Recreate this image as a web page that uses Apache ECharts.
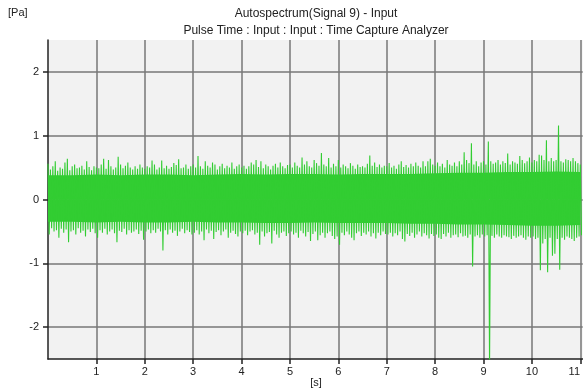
<!DOCTYPE html>
<html>
<head>
<meta charset="utf-8">
<script src="https://cdn.jsdelivr.net/npm/echarts@6/dist/echarts.min.js"></script>
<style>
  html, body { margin: 0; padding: 0; background: #ffffff; }
  #chart { width: 583px; height: 390px; }
</style>
</head>
<body>
<div id="chart"></div>
<script>
// Time capture of input pressure signal: envelope of the trace per 0.05 s block.
const BLOCK = 0.05;            // seconds per block
const CORE_STEP = 0.5;         // seconds per solid-core sample

// Peak (max) value inside each 0.05 s block, Pa
const peakHigh = [
  0.56,0.47,0.52,0.60,0.45,0.50,0.48,0.58,0.64,0.46,0.52,0.55,0.49,0.50,0.53,0.47,0.60,0.51,0.46,0.52,
  0.50,0.49,0.55,0.64,0.48,0.62,0.52,0.47,0.50,0.67,0.55,0.49,0.53,0.58,0.50,0.47,0.52,0.48,0.55,0.50,
  0.48,0.52,0.50,0.61,0.55,0.47,0.50,0.61,0.49,0.53,0.48,0.51,0.57,0.54,0.63,0.49,0.50,0.55,0.48,0.52,
  0.55,0.50,0.68,0.52,0.48,0.60,0.53,0.50,0.58,0.55,0.47,0.52,0.56,0.49,0.53,0.50,0.58,0.48,0.52,0.55,
  0.50,0.53,0.48,0.52,0.58,0.55,0.62,0.51,0.60,0.49,0.55,0.52,0.47,0.53,0.56,0.50,0.58,0.52,0.49,0.54,
  0.55,0.50,0.58,0.53,0.50,0.66,0.55,0.60,0.52,0.50,0.62,0.57,0.53,0.73,0.55,0.52,0.65,0.50,0.56,0.52,
  0.62,0.50,0.55,0.52,0.49,0.57,0.53,0.48,0.55,0.51,0.52,0.50,0.56,0.69,0.53,0.58,0.51,0.55,0.50,0.53,
  0.52,0.57,0.50,0.53,0.48,0.55,0.60,0.51,0.54,0.50,0.56,0.52,0.58,0.53,0.50,0.60,0.52,0.60,0.64,0.55,
  0.53,0.58,0.52,0.56,0.50,0.62,0.55,0.53,0.58,0.52,0.60,0.55,0.74,0.62,0.57,0.88,0.55,0.60,0.52,0.58,
  0.60,0.55,0.91,0.60,0.56,0.58,0.62,0.55,0.60,0.57,0.72,0.55,0.60,0.58,0.56,0.68,0.62,0.57,0.60,0.66,
  0.58,0.62,0.60,0.70,0.69,0.62,0.93,0.60,0.65,0.60,0.62,1.16,0.60,0.58,0.63,0.62,0.60,0.65,0.60,0.57,
  0.55
];

// Trough (min) value inside each 0.05 s block, Pa
const peakLow = [
  -0.55,-0.45,-0.50,-0.48,-0.60,-0.46,-0.52,-0.47,-0.67,-0.50,-0.48,-0.55,-0.45,-0.52,-0.49,-0.58,-0.47,-0.51,-0.46,-0.53,
  -0.60,-0.48,-0.52,-0.46,-0.55,-0.50,-0.47,-0.53,-0.67,-0.49,-0.51,-0.46,-0.55,-0.48,-0.52,-0.50,-0.47,-0.54,-0.49,-0.63,
  -0.50,-0.47,-0.53,-0.48,-0.52,-0.46,-0.50,-0.80,-0.48,-0.55,-0.47,-0.52,-0.49,-0.57,-0.50,-0.46,-0.53,-0.48,-0.51,-0.55,
  -0.52,-0.48,-0.55,-0.50,-0.64,-0.47,-0.53,-0.49,-0.62,-0.51,-0.48,-0.56,-0.50,-0.47,-0.60,-0.52,-0.49,-0.54,-0.58,-0.50,
  -0.53,-0.49,-0.56,-0.50,-0.48,-0.55,-0.52,-0.71,-0.50,-0.58,-0.53,-0.51,-0.69,-0.49,-0.55,-0.60,-0.52,-0.50,-0.57,-0.53,
  -0.50,-0.55,-0.52,-0.60,-0.49,-0.53,-0.58,-0.51,-0.65,-0.54,-0.50,-0.64,-0.56,-0.52,-0.60,-0.53,-0.50,-0.57,-0.62,-0.58,
  -0.71,-0.52,-0.56,-0.50,-0.55,-0.60,-0.64,-0.53,-0.50,-0.57,-0.52,-0.55,-0.50,-0.58,-0.53,-0.61,-0.52,-0.56,-0.50,-0.54,
  -0.55,-0.52,-0.58,-0.53,-0.56,-0.50,-0.62,-0.66,-0.54,-0.57,-0.52,-0.60,-0.55,-0.50,-0.58,-0.53,-0.56,-0.61,-0.54,-0.57,
  -0.55,-0.60,-0.62,-0.54,-0.58,-0.52,-0.60,-0.56,-0.55,-0.59,-0.53,-0.58,-0.57,-0.60,-0.55,-1.05,-0.58,-0.56,-0.60,-0.55,
  -0.58,-0.56,-2.60,-0.57,-0.60,-0.55,-0.58,-0.60,-0.56,-0.58,-0.59,-0.62,-0.57,-0.60,-0.58,-0.56,-0.60,-0.63,-0.58,-0.60,
  -0.58,-0.62,-0.60,-1.11,-0.69,-0.62,-1.14,-0.60,-0.88,-0.85,-0.62,-1.10,-0.60,-0.63,-0.58,-0.60,-0.62,-0.65,-0.60,-0.58,
  -0.56
];

// Solid core of the trace, sampled every 0.5 s, Pa
const coreHigh = [0.38,0.38,0.39,0.38,0.39,0.39,0.38,0.39,0.40,0.39,0.40,0.40,0.39,0.40,0.40,0.40,0.41,0.42,0.42,0.43,0.43,0.44,0.43];
const coreLow  = [-0.35,-0.35,-0.36,-0.35,-0.36,-0.36,-0.35,-0.36,-0.36,-0.37,-0.37,-0.36,-0.37,-0.37,-0.37,-0.38,-0.38,-0.39,-0.39,-0.40,-0.41,-0.41,-0.40];

const yTickLabels = ['-2', '-1', '0', '1', '2'];
const xTickLabels = ['1', '2', '3', '4', '5', '6', '7', '8', '9', '10', '11'];

const titleText = 'Autospectrum(Signal 9) - Input';
const subtitleText = 'Pulse Time : Input : Input : Time Capture Analyzer';
const yUnit = '[Pa]';
const xUnit = '[s]';

const TRACE = '#32cd32';
const FONT = '"Liberation Sans", Arial, sans-serif';

// Zig-zag between block max and block min so the trace reads as a dense waveform
const trace = [];
for (let i = 0; i < peakHigh.length; i++) {
  const t = i * BLOCK;
  trace.push([t, peakHigh[i]]);
  trace.push([t + BLOCK / 2, peakLow[i]]);
}
const coreTop = coreHigh.map((v, i) => [i * CORE_STEP, v]);
const coreBottom = coreLow.map((v, i) => [i * CORE_STEP, v]);

const chart = echarts.init(document.getElementById('chart'), null, { renderer: 'canvas' });

const gridLine = { show: true, showMinLine: false, showMaxLine: false, lineStyle: { color: '#777777', width: 1.5 } };

chart.setOption({
  animation: false,
  backgroundColor: '#ffffff',
  textStyle: { fontFamily: FONT },
  grid: {
    left: 48, right: 0, top: 40, bottom: 31,
    show: true, backgroundColor: '#f2f2f2', borderWidth: 0,
    containLabel: false
  },
  xAxis: {
    type: 'value',
    min: 0, max: 11.05, interval: 1,
    axisLine: { show: true, onZero: false, lineStyle: { color: '#222222', width: 1.5 } },
    axisTick: { show: true, inside: false, length: 5, lineStyle: { color: '#222222', width: 1.5 } },
    axisLabel: {
      show: true, margin: 7, color: '#222222', fontSize: 11, fontFamily: FONT,
      showMinLabel: false, showMaxLabel: false,
      formatter: function (v) {
        const s = String(Math.round(v));
        if (xTickLabels.indexOf(s) < 0 || Math.abs(v - Math.round(v)) > 1e-6) return '';
        return s === xTickLabels[xTickLabels.length - 1] ? '{last|' + s + '}' : s;
      },
      rich: { last: { fontSize: 11, fontFamily: FONT, color: '#222222', padding: [0, 12, 0, 0] } }
    },
    splitLine: gridLine
  },
  yAxis: {
    type: 'value',
    min: -2.5, max: 2.5,
    axisLine: { show: true, onZero: false, lineStyle: { color: '#222222', width: 1.5 } },
    axisTick: { show: true, inside: false, length: 5, lineStyle: { color: '#222222', width: 1.5 } },
    axisLabel: {
      show: true, margin: 9, color: '#222222', fontSize: 11, fontFamily: FONT,
      showMinLabel: false, showMaxLabel: false,
      formatter: function (v) {
        const s = String(Math.round(v));
        return (yTickLabels.indexOf(s) >= 0 && Math.abs(v - Math.round(v)) < 1e-6) ? s : '';
      }
    },
    splitLine: gridLine
  },
  series: [
    {
      type: 'line', data: coreTop, symbol: 'none', silent: true,
      lineStyle: { width: 0 }, areaStyle: { color: TRACE, opacity: 1 }, z: 2
    },
    {
      type: 'line', data: coreBottom, symbol: 'none', silent: true,
      lineStyle: { width: 0 }, areaStyle: { color: TRACE, opacity: 1 }, z: 2
    },
    {
      type: 'line', data: trace, symbol: 'none', silent: true, clip: true,
      lineStyle: { color: TRACE, width: 1.1 }, z: 3
    }
  ],
  graphic: [
    { type: 'text', left: 8, top: 7, style: { text: yUnit, fill: '#222222', font: '11px ' + FONT } },
    { type: 'text', x: 316, y: 14, style: { text: titleText, fill: '#222222', font: '12px ' + FONT, align: 'center', verticalAlign: 'middle' } },
    { type: 'text', x: 316, y: 31, style: { text: subtitleText, fill: '#222222', font: '12px ' + FONT, align: 'center', verticalAlign: 'middle' } },
    { type: 'text', x: 316, y: 383, style: { text: xUnit, fill: '#222222', font: '11px ' + FONT, align: 'center', verticalAlign: 'middle' } }
  ]
});
</script>
</body>
</html>
